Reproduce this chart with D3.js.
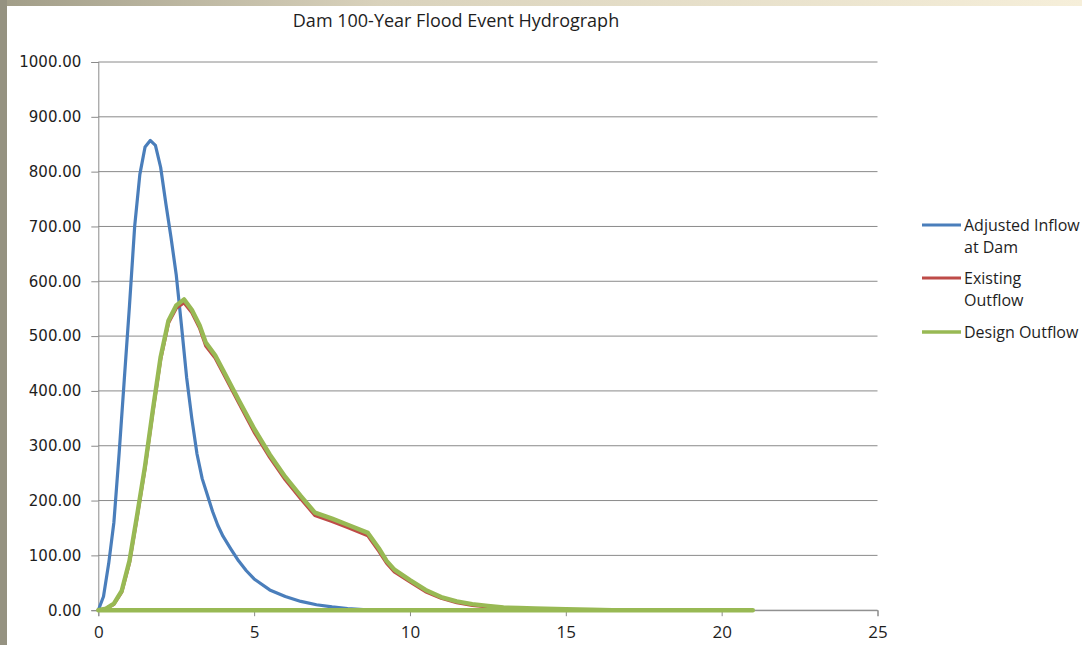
<!DOCTYPE html>
<html lang="en">
<head>
    <meta charset="UTF-8">
    <title>Dam 100-Year Flood Event Hydrograph</title>
    <script src="https://d3js.org/d3.v7.min.js"></script>
    <style>
        body {
            margin: 0;
            background: #ffffff;
        }
        svg {
            display: block;
        }
    </style>
</head>
<body>
    <div class="chart"></div>

    <script>
        // hours / cfs
        const inflowTime = [0, 0.167, 0.333, 0.5, 0.667, 0.833, 1.0, 1.167, 1.333, 1.5, 1.667, 1.833, 2.0, 2.167,
            2.333, 2.5, 2.667, 2.833, 3.0, 3.167, 3.333, 3.5, 3.667, 3.833, 4.0, 4.25, 4.5, 4.75, 5.0, 5.5,
            6.0, 6.5, 7.0, 7.5, 8.0, 8.5, 8.75];
        const inflowFlow = [0, 25, 85, 160, 285, 420, 555, 700, 795, 845, 857, 848, 808, 742,
            680, 612, 520, 425, 350, 285, 240, 210, 180, 155, 135, 112, 90, 72, 57, 37,
            25, 16, 10, 6, 3, 1, 0];

        const existingTime = [0, 0.25, 0.5, 0.75, 1.0, 1.25, 1.5, 1.75, 2.0, 2.25, 2.5, 2.75, 3.0, 3.25, 3.45,
            3.75, 4.0, 4.5, 5.0, 5.5, 6.0, 6.5, 6.95, 7.5, 8.0, 8.65, 9.0, 9.25, 9.5, 10.0, 10.5, 11.0,
            11.5, 12.0, 12.5, 13.0];
        const existingFlow = [0, 3, 11, 33, 87, 172, 260, 362, 458, 524, 551, 561, 543, 515, 482,
            460, 433, 379, 325, 279, 238, 203, 173, 162, 151, 136, 108, 86, 70, 52, 34, 22,
            14, 9, 6, 3];

        // the design series runs out to 21 h and then drops back to the origin
        const designTime = [0, 0.25, 0.5, 0.75, 1.0, 1.25, 1.5, 1.75, 2.0, 2.25, 2.5, 2.75, 3.0, 3.25, 3.45,
            3.75, 4.0, 4.5, 5.0, 5.5, 6.0, 6.5, 6.95, 7.5, 8.0, 8.65, 9.0, 9.25, 9.5, 10.0, 10.5, 11.0,
            11.5, 12.0, 12.5, 13.0, 13.5, 14.0, 15.0, 15.8, 16.5, 21.0, 0];
        const designFlow = [0, 3, 12, 35, 90, 175, 263, 365, 462, 528, 556, 567, 548, 520, 488,
            465, 438, 384, 331, 284, 243, 208, 178, 167, 156, 141, 113, 90, 74, 55, 37, 24,
            16, 11, 8, 5, 4, 3, 2, 1, 0, 0, 0];

        const seriesNames = ['Adjusted Inflow at Dam', 'Existing Outflow', 'Design Outflow'];
        const seriesLabelLines = [['Adjusted Inflow', 'at Dam'], ['Existing', 'Outflow'], ['Design Outflow']];
        const seriesColors = ['#4a7ebb', '#be4b48', '#98b954'];

        const xTicks = [0, 5, 10, 15, 20, 25];
        const yTicks = [0, 100, 200, 300, 400, 500, 600, 700, 800, 900, 1000];

        const chartTitle = 'Dam 100-Year Flood Event Hydrograph';

        const W = 1082, H = 645;
        const plot = { left: 98.3, right: 877.5, top: 62, bottom: 610.2 };

        const svg = d3.select('.chart')
            .append('svg')
            .attr('width', W)
            .attr('height', H);

        // slide frame: gradient band on top, grey strip on the left
        const defs = svg.append('defs');
        const grad = defs.append('linearGradient').attr('id', 'topband');
        grad.append('stop').attr('offset', '0%').attr('stop-color', '#a19d88');
        grad.append('stop').attr('offset', '35%').attr('stop-color', '#d9d2bc');
        grad.append('stop').attr('offset', '100%').attr('stop-color', '#f6efda');

        svg.append('rect').attr('width', W).attr('height', H).attr('fill', '#ffffff');
        svg.append('rect').attr('width', W).attr('height', 6).attr('fill', 'url(#topband)');
        svg.append('rect').attr('width', 7).attr('height', H).attr('fill', '#959281');

        const x = d3.scaleLinear().domain([0, 25]).range([plot.left, plot.right]);
        const y = d3.scaleLinear().domain([0, 1000]).range([plot.bottom, plot.top]);

        // gridlines
        svg.append('g')
            .selectAll('line')
            .data(yTicks)
            .enter()
            .append('line')
            .attr('x1', plot.left)
            .attr('x2', plot.right)
            .attr('y1', d => y(d))
            .attr('y2', d => y(d))
            .attr('stroke', '#8a8a8a')
            .attr('stroke-width', 1);

        // y axis
        const yAxis = svg.append('g')
            .attr('transform', `translate(${plot.left},0)`)
            .call(d3.axisLeft(y).tickValues(yTicks).tickSize(7).tickPadding(10).tickFormat(d3.format('.2f')));
        yAxis.select('.domain').attr('stroke', '#8a8a8a');
        yAxis.selectAll('.tick line').attr('stroke', '#8a8a8a');
        yAxis.selectAll('.tick text')
            .attr('fill', '#1e1e1e')
            .style('font-family', '"DejaVu Sans", sans-serif')
            .style('font-size', '15px');

        // x axis
        const xAxis = svg.append('g')
            .attr('transform', `translate(0,${plot.bottom})`)
            .call(d3.axisBottom(x).tickValues(xTicks).tickSize(6).tickPadding(10));
        xAxis.select('.domain').attr('stroke', '#8a8a8a');
        xAxis.selectAll('.tick line').attr('stroke', '#8a8a8a');
        xAxis.selectAll('.tick text')
            .attr('fill', '#1e1e1e')
            .style('font-family', '"Open Sans", sans-serif')
            .style('font-size', '17px');

        // series
        const series = [
            { time: inflowTime, flow: inflowFlow, width: 3.2 },
            { time: existingTime, flow: existingFlow, width: 3.4 },
            { time: designTime, flow: designFlow, width: 4.4 }
        ];

        const line = d3.line()
            .x(d => x(d[0]))
            .y(d => y(d[1]));

        series.forEach((s, i) => {
            svg.append('path')
                .datum(d3.zip(s.time, s.flow))
                .attr('fill', 'none')
                .attr('stroke', seriesColors[i])
                .attr('stroke-width', s.width)
                .attr('stroke-linejoin', 'round')
                .attr('stroke-linecap', 'round')
                .attr('d', line);
        });

        // title
        svg.append('text')
            .attr('x', 456)
            .attr('y', 27)
            .attr('text-anchor', 'middle')
            .attr('fill', '#1e1e1e')
            .style('font-family', '"Open Sans", sans-serif')
            .style('font-size', '18px')
            .text(chartTitle);

        // legend
        const legendRows = [225, 278, 332];
        const legend = svg.append('g');
        seriesNames.forEach((name, i) => {
            const g = legend.append('g').attr('transform', `translate(0,${legendRows[i]})`);
            g.append('line')
                .attr('x1', 922)
                .attr('x2', 961)
                .attr('stroke', seriesColors[i])
                .attr('stroke-width', i === 2 ? 3.4 : 3.2);
            const t = g.append('text')
                .attr('fill', '#1e1e1e')
                .style('font-family', '"Open Sans", sans-serif')
                .style('font-size', '16px');
            seriesLabelLines[i].forEach((txt, j) => {
                t.append('tspan')
                    .attr('x', 964)
                    .attr('y', 6 + j * 22)
                    .text(txt);
            });
        });
    </script>
</body>
</html>
